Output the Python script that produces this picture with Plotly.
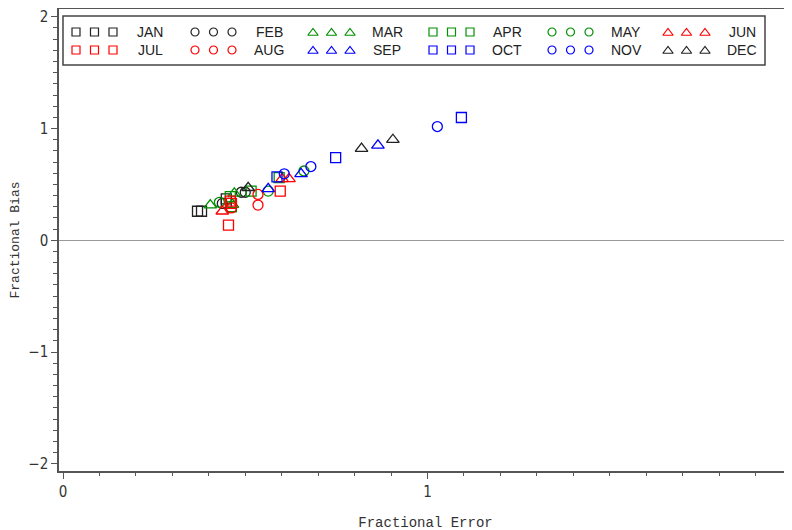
import plotly.graph_objects as go

# ---------------- data ----------------
months = ["JAN", "FEB", "MAR", "APR", "MAY", "JUN",
          "JUL", "AUG", "SEP", "OCT", "NOV", "DEC"]

jan_x = [0.369, 0.380, 0.448, 0.448]
jan_y = [0.26, 0.26, 0.37, 0.33]
feb_x = [0.489, 0.500, 0.437]
feb_y = [0.43, 0.43, 0.33]
mar_x = [0.404, 0.470, 0.465]
mar_y = [0.315, 0.42, 0.32]
apr_x = [0.516, 0.459, 0.593, 0.462]
apr_y = [0.44, 0.39, 0.56, 0.30]
may_x = [0.661, 0.563, 0.429]
may_y = [0.62, 0.44, 0.34]
jun_x = [0.601, 0.620, 0.437]
jun_y = [0.55, 0.55, 0.26]
jul_x = [0.596, 0.454, 0.459, 0.462]
jul_y = [0.44, 0.135, 0.35, 0.33]
aug_x = [0.535, 0.535, 0.462]
aug_y = [0.41, 0.315, 0.29]
sep_x = [0.864, 0.653, 0.563]
sep_y = [0.85, 0.595, 0.46]
oct_x = [1.093, 0.748, 0.587]
oct_y = [1.099, 0.74, 0.567]
nov_x = [1.027, 0.680, 0.607]
nov_y = [1.018, 0.66, 0.595]
dec_x = [0.905, 0.819, 0.508]
dec_y = [0.90, 0.82, 0.47]

xs = [jan_x, feb_x, mar_x, apr_x, may_x, jun_x, jul_x, aug_x, sep_x, oct_x, nov_x, dec_x]
ys = [jan_y, feb_y, mar_y, apr_y, may_y, jun_y, jul_y, aug_y, sep_y, oct_y, nov_y, dec_y]

BLACK, RED, GREEN, BLUE = "#222222", "#ff0000", "#009000", "#0000ff"
SQ, CI, TR = "square-open", "circle-open", "triangle-up-open"
colors = [BLACK, BLACK, GREEN, GREEN, GREEN, RED, RED, RED, BLUE, BLUE, BLUE, BLACK]
symbols = [SQ, CI, TR, SQ, CI, TR, SQ, CI, TR, SQ, CI, TR]

x_ticks = [0, 1, 2]
y_ticks = [-2, -1, 0, 1, 2]

fig = go.Figure()

for m, x, y, c, s in zip(months, xs, ys, colors, symbols):
    fig.add_trace(go.Scatter(
        x=x, y=y, mode="markers", name=m, showlegend=False,
        marker=dict(symbol=s, size=11 if s == TR else 10, color=c,
                    line=dict(color=c, width=1.3)),
    ))

# ---------------- custom legend (overlay axes in pixel units) ----------------
col_x0 = [76, 195, 313, 433, 552, 668]
row_y = [32, 50]
marker_dx = [0, 18.5, 37]
label_dx = 74
for i, (m, c, s) in enumerate(zip(months, colors, symbols)):
    row, col = divmod(i, 6)
    lx = [col_x0[col] + d for d in marker_dx]
    ly = [row_y[row] + (1 if s == TR else 0)] * 3
    fig.add_trace(go.Scatter(
        x=lx, y=ly, xaxis="x2", yaxis="y2", mode="markers", showlegend=False,
        hoverinfo="skip",
        marker=dict(symbol=s, size=9 if s == TR else 8, color=c,
                    line=dict(color=c, width=1.2)),
    ))
    fig.add_annotation(x=col_x0[col] + label_dx, y=row_y[row], xref="x2", yref="y2",
                       text=m, showarrow=False, xanchor="center", yanchor="middle",
                       font=dict(family="Liberation Sans, Arial, sans-serif",
                                 size=14, color="#222"))

fig.add_shape(type="rect", xref="x2", yref="y2", x0=63, x1=765, y0=16, y1=65,
              line=dict(color="#444", width=1.5), fillcolor="rgba(0,0,0,0)")

tick_font = dict(family="Liberation Sans Narrow, DejaVu Sans Condensed, sans-serif",
                 size=15, color="#333")
title_font = dict(family="Liberation Mono, DejaVu Sans Mono, monospace",
                  size=13, color="#333")

fig.update_layout(
    width=792, height=530,
    margin=dict(l=51, r=8, t=1, b=67),
    paper_bgcolor="white", plot_bgcolor="white",
    showlegend=False,
    xaxis=dict(
        range=[-0.011, 2.0], tickvals=x_ticks, ticktext=[str(v) for v in x_ticks],
        ticks="outside", ticklen=6, tickwidth=1.3, tickcolor="#555",
        minor=dict(dtick=0.1, tick0=0, ticks="outside", ticklen=3,
                   tickcolor="#555", tickwidth=1.2, showgrid=False),
        showline=True, linecolor="#555", linewidth=1.5, mirror=True,
        showgrid=False, zeroline=False, tickfont=tick_font,
        title=dict(text="Fractional Error", font=dict(title_font, size=14), standoff=17),
        automargin=False,
    ),
    yaxis=dict(
        range=[-2.065, 2.07], tickvals=y_ticks,
        ticktext=["\u22122", "\u22121", "0", "1", "2"],
        ticks="outside", ticklen=6, tickwidth=1.3, tickcolor="#555",
        minor=dict(dtick=0.1, tick0=0, ticks="outside", ticklen=4,
                   tickcolor="#555", tickwidth=1.2, showgrid=False),
        showline=True, linecolor="#555", linewidth=1.5, mirror=True,
        showgrid=False, zeroline=True, zerolinecolor="#999", zerolinewidth=1,
        tickfont=tick_font,
        title=dict(text="Fractional Bias", font=title_font, standoff=12),
        automargin=False,
    ),
    xaxis2=dict(range=[59, 792], overlaying="x", visible=False, fixedrange=True),
    yaxis2=dict(range=[471, 9], overlaying="y", visible=False, fixedrange=True),
)

fig.write_html("out.html")
